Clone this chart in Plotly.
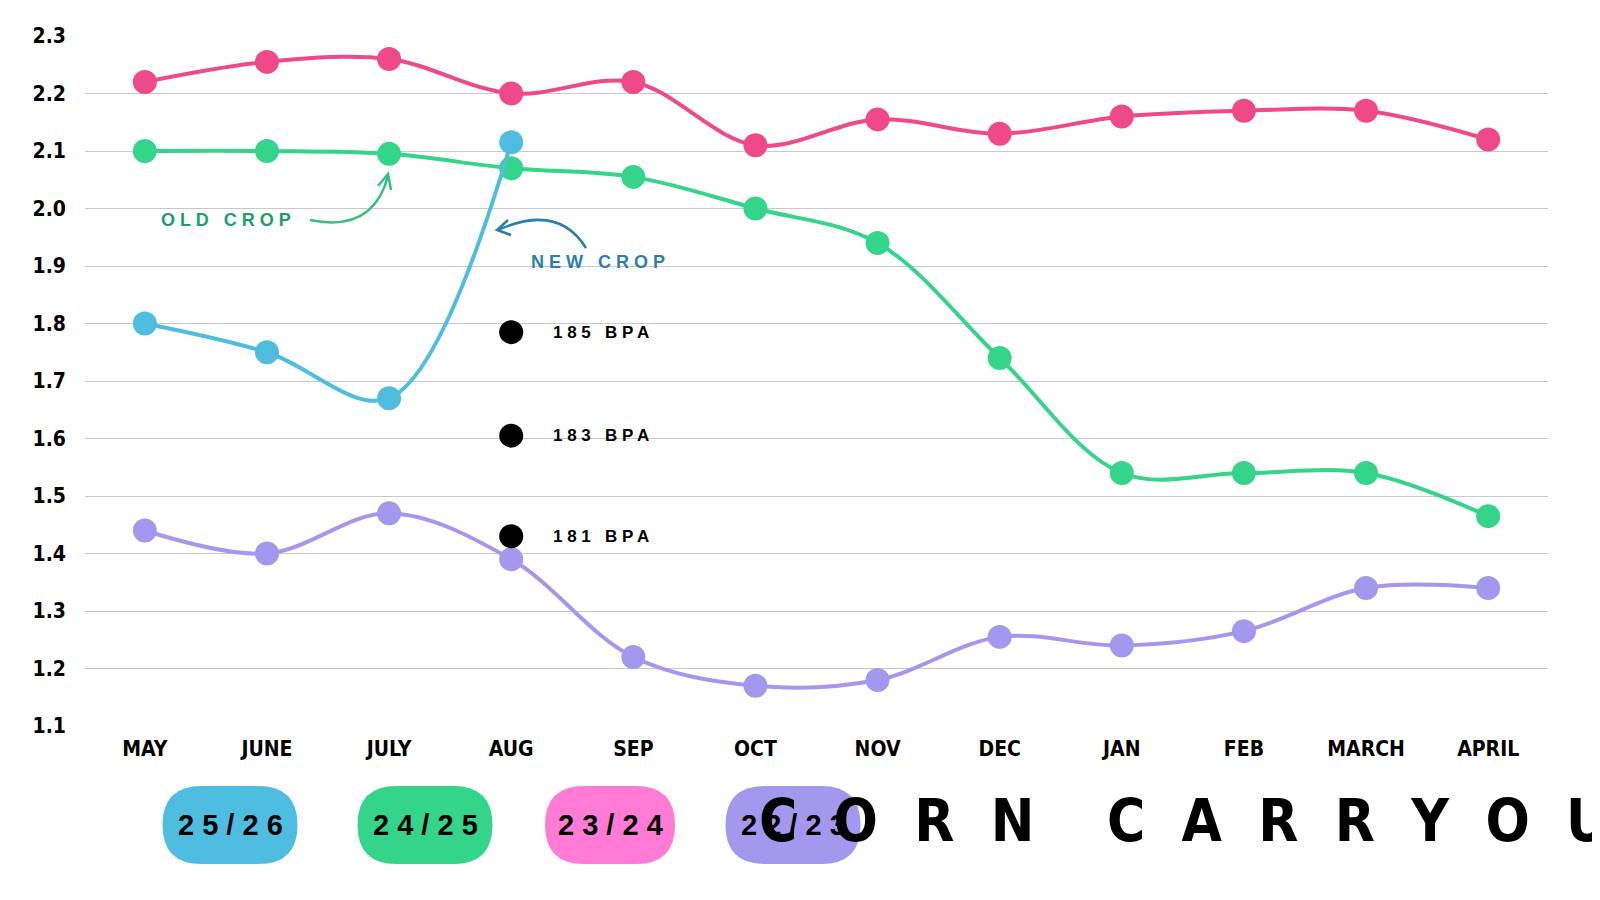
import plotly.graph_objects as go

months = ["MAY","JUNE","JULY","AUG","SEP","OCT","NOV","DEC","JAN","FEB","MARCH","APRIL"]
s2526 = [1.80, 1.75, 1.67, 2.115]
s2425 = [2.10, 2.10, 2.095, 2.07, 2.055, 2.00, 1.94, 1.74, 1.54, 1.54, 1.54, 1.465]
s2324 = [2.22, 2.255, 2.26, 2.20, 2.22, 2.11, 2.155, 2.13, 2.16, 2.17, 2.17, 2.12]
s2223 = [1.44, 1.40, 1.47, 1.39, 1.22, 1.17, 1.18, 1.255, 1.24, 1.265, 1.34, 1.34]
bpa_vals = [1.785, 1.605, 1.43]
bpa_labels = ["185 BPA", "183 BPA", "181 BPA"]

COND = "DejaVu Sans Condensed, Liberation Sans Narrow, Arial Narrow, sans-serif"
L, R, T, B = 77, 60, 28, 182
W, H = 1600, 900
PW, PH = W - L - R, H - T - B
def px(x): return (x - L) / PW
def py(y): return (H - B - y) / PH

fig = go.Figure()
for vals, col in [(s2223, "#a497ee"), (s2324, "#f0498a"), (s2425, "#34d48a"), (s2526, "#4fbde0")]:
    fig.add_trace(go.Scatter(x=list(range(len(vals))), y=vals, mode="lines+markers",
        line=dict(color=col, width=4, shape="spline", smoothing=1.0),
        marker=dict(color=col, size=24), showlegend=False, hoverinfo="skip"))
fig.add_trace(go.Scatter(x=[3]*3, y=bpa_vals, mode="markers",
    marker=dict(color="black", size=24), showlegend=False, hoverinfo="skip"))

shapes, anns = [], []
for v, t in zip(bpa_vals, bpa_labels):
    anns.append(dict(x=3, y=v, xref="x", yref="y", text=" ".join(t), showarrow=False, xanchor="left", yanchor="middle",
        xshift=40, font=dict(family="Liberation Sans", size=17, color="black", weight="bold")))

pills = [("25/26", 222, 135, "#4fbde0"), ("24/25", 417, 135, "#34d48a"), ("23/24", 602, 130, "#ff7bd5"), ("22/23", 785, 135, "#a497ee")]
for txt, cx, w, col in pills:
    h = 78
    x0, x1, y0, y1 = px(cx - w/2), px(cx + w/2), py(817 + h/2), py(817 - h/2)
    r = (h/2) / PW
    path = (f"M {x0+r},{y0} L {x1-r},{y0} Q {x1},{y0} {x1},{(y0+y1)/2} Q {x1},{y1} {x1-r},{y1} "
            f"L {x0+r},{y1} Q {x0},{y1} {x0},{(y0+y1)/2} Q {x0},{y0} {x0+r},{y0} Z")
    shapes.append(dict(type="path", path=path, xref="paper", yref="paper", fillcolor=col, line=dict(width=0), layer="below"))
    anns.append(dict(x=px(cx), y=py(817), xref="paper", yref="paper", text=" ".join(txt), showarrow=False,
        xanchor="center", yanchor="middle",
        font=dict(family="Liberation Sans", size=29, color="black", weight="bold")))

anns.append(dict(x=px(1212), y=py(813), xref="paper", yref="paper", text="C  O  R  N    C  A  R  R  Y  O  U  T", showarrow=False,
    xanchor="center", yanchor="middle", font=dict(family=COND, size=58, color="black", weight="bold")))
anns.append(dict(x=px(218), y=py(212), xref="paper", yref="paper", text="O L D   C R O P", showarrow=False,
    xanchor="center", yanchor="middle", font=dict(family="Liberation Sans", size=18, color="#1a9e6a", weight="bold")))
anns.append(dict(x=px(590), y=py(254), xref="paper", yref="paper", text="N E W   C R O P", showarrow=False,
    xanchor="center", yanchor="middle", font=dict(family="Liberation Sans", size=18, color="#2a7fb0", weight="bold")))

def P(x, y): return f"{px(x)},{py(y)}"
shapes.append(dict(type="path", xref="paper", yref="paper", line=dict(color="#34c07a", width=2.5),
    path=f"M {P(302,212)} Q {P(365,225)} {P(380,168)}"))
shapes.append(dict(type="path", xref="paper", yref="paper", line=dict(color="#34c07a", width=2.5),
    path=f"M {P(370,178)} L {P(380,166)} L {P(383,182)}"))
shapes.append(dict(type="path", xref="paper", yref="paper", line=dict(color="#2a7fb0", width=2.5),
    path=f"M {P(578,240)} Q {P(550,195)} {P(490,222)}"))
shapes.append(dict(type="path", xref="paper", yref="paper", line=dict(color="#2a7fb0", width=2.5),
    path=f"M {P(500,212)} L {P(489,222)} L {P(503,227)}"))

fig.update_layout(width=W, height=H, margin=dict(l=L, r=R, t=T, b=B), plot_bgcolor="white", paper_bgcolor="white",
    shapes=shapes, annotations=anns,
    xaxis=dict(range=[-0.49, 11.49], tickvals=list(range(12)), ticktext=months, showgrid=False, zeroline=False,
        showline=False, tickfont=dict(family=COND, size=21, color="black", weight="bold"), ticklen=0,
        ticklabelstandoff=8),
    yaxis=dict(range=[1.1, 2.3], dtick=0.1, tickformat=".1f", gridcolor="#c8c8c8", gridwidth=1, zeroline=False,
        tickfont=dict(family=COND, size=21, color="black", weight="bold"), ticks="", ticklabelstandoff=18))
fig.write_html("out.html")
